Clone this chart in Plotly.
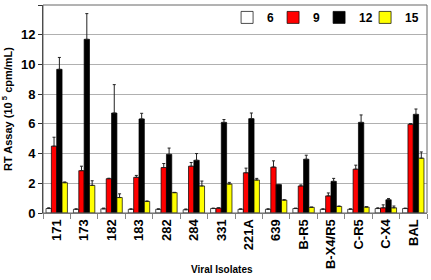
import plotly.graph_objects as go

categories = ["171", "173", "182", "183", "282", "284", "331", "221A", "639",
              "B-R5", "B-X4/R5", "C-R5", "C-X4", "BAL"]

series_names = ["6", "9", "12", "15"]

vals_6 = [0.30, 0.25, 0.28, 0.25, 0.25, 0.22, 0.30, 0.25, 0.25, 0.30, 0.25, 0.25, 0.30, 0.30]
err_6 = [0.05, 0.03, 0.05, 0.03, 0.03, 0.05, 0.03, 0.03, 0.03, 0.03, 0.03, 0.03, 0.05, 0.03]

vals_9 = [4.50, 2.85, 2.31, 2.40, 3.06, 3.15, 0.33, 2.71, 3.09, 1.82, 1.15, 2.95, 0.35, 5.97]
err_9 = [0.60, 0.30, 0.03, 0.13, 0.27, 0.25, 0.02, 0.31, 0.42, 0.07, 0.20, 0.27, 0.20, 0.05]

vals_12 = [9.67, 11.69, 6.73, 6.33, 3.95, 3.55, 6.10, 6.35, 1.91, 3.62, 2.13, 6.10, 0.89, 6.64]
err_12 = [0.80, 1.73, 1.91, 0.38, 0.42, 0.45, 0.19, 0.38, 0.02, 0.27, 0.20, 0.50, 0.08, 0.36]

vals_15 = [2.04, 1.86, 1.04, 0.78, 1.37, 1.82, 1.95, 2.22, 0.87, 0.38, 0.44, 0.40, 0.35, 3.69]
err_15 = [0.05, 0.31, 0.25, 0.03, 0.02, 0.33, 0.11, 0.11, 0.02, 0.02, 0.03, 0.02, 0.12, 0.42]

colors = ["#ffffff", "#ff0000", "#000000", "#ffff00"]
legend_widths = [1, 1, 1, 15]
all_vals = [vals_6, vals_9, vals_12, vals_15]
all_errs = [err_6, err_9, err_12, err_15]

FONT = "Arial, Liberation Sans, sans-serif"

fig = go.Figure()
for name, col, v, e, lw in zip(series_names, colors, all_vals, all_errs, legend_widths):
    fig.add_trace(go.Bar(
        x=categories, y=v, name=name, legendwidth=lw,
        marker=dict(color=col, line=dict(color="#000000", width=0.7)),
        error_y=dict(type="data", array=e, arrayminus=[0] * len(e), symmetric=False,
                     color="#222222", thickness=1, width=1.5),
    ))

fig.update_layout(
    width=431, height=280,
    margin=dict(l=43, r=4, t=3, b=67),
    paper_bgcolor="white", plot_bgcolor="white",
    barmode="group", bargap=0.22, bargroupgap=0,
    font=dict(family=FONT, color="black"),
    showlegend=True,
    legend=dict(orientation="h", x=0.995, xanchor="right", y=1.01, yanchor="top",
                font=dict(size=12, family=FONT, weight="bold"),
                itemwidth=30, entrywidthmode="pixels",
                bgcolor="rgba(0,0,0,0)", traceorder="normal",
                tracegroupgap=0, itemclick=False),
    xaxis=dict(
        type="category", tickangle=-90, ticks="outside", tickson="boundaries",
        ticklen=5, tickcolor="#888888", showline=True, linecolor="#888888", linewidth=1,
        tickfont=dict(size=13, family=FONT, weight="bold"),
        showgrid=False, automargin=False,
    ),
    yaxis=dict(
        range=[0, 14], dtick=2, ticks="outside", ticklen=4, tickcolor="#333333",
        showline=True, linecolor="#333333", linewidth=1,
        showgrid=True, gridcolor="#b0b0b0", gridwidth=1, zeroline=False,
        tickfont=dict(size=13, family=FONT, weight="bold"),
        title=dict(text="RT Assay (10<sup> 5</sup> cpm/mL)", standoff=6,
                   font=dict(size=11, family=FONT, weight="bold")),
        automargin=False,
    ),
)

# plot-area frame (top and right edges)
fig.add_shape(type="rect", xref="paper", yref="paper", x0=0, x1=1, y0=0, y1=1,
              line=dict(color="#666666", width=1), layer="above")

fig.add_annotation(text="Viral Isolates", xref="paper", yref="paper",
                   x=0.465, y=-0.272, xanchor="center", yanchor="middle",
                   showarrow=False, font=dict(size=10, family=FONT, weight="bold"))

fig.write_html("out.html")
